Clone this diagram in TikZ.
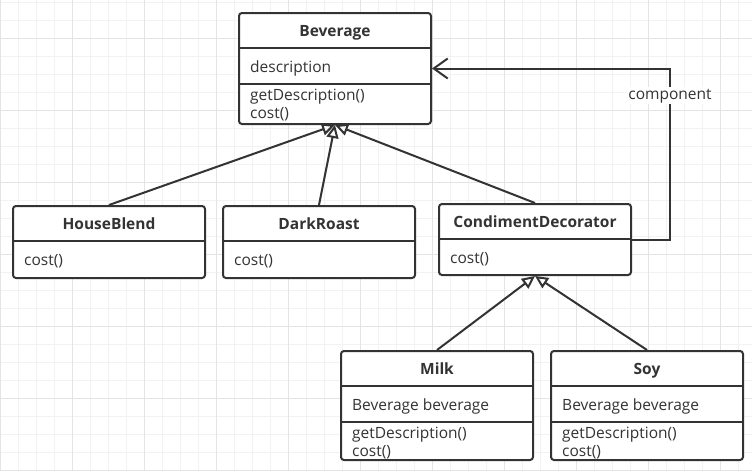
\documentclass[tikz,border=0pt]{standalone}
\usepackage{fontspec}
\setmainfont{Open Sans}
\usepackage{tikz}
\usepackage{xcolor}
\usetikzlibrary{arrows.meta, positioning, calc}

\definecolor{ink}{HTML}{333333}
\definecolor{gridminor}{HTML}{F2F2F2}
\definecolor{gridmajor}{HTML}{E4E4E4}

\begin{document}
\begin{tikzpicture}[x=1pt, y=-1pt,
    classbox/.style={draw=ink, line width=2pt, rounded corners=3pt, fill=white,
        inner sep=0pt, anchor=north west, minimum width=192pt},
    divider/.style={draw=ink, line width=2pt},
    title/.style={font=\fontsize{15.5}{18}\selectfont\bfseries, text=ink, anchor=base, inner sep=0pt},
    member/.style={font=\fontsize{15.5}{18}\selectfont, text=ink, anchor=base west, inner sep=0pt},
    lbl/.style={font=\fontsize{15.5}{18}\selectfont, text=ink, fill=white, inner sep=1.5pt},
    inherit/.style={draw=ink, line width=2pt, -{Triangle[open, length=13pt, width=12pt]}},
    assoc/.style={draw=ink, line width=2pt, -{Straight Barb[length=14pt, width=20pt]}},
]
\useasboundingbox (0,0) rectangle (752,471);
\fill[white] (0,0) rectangle (752,471);

% background grid
\foreach \x in {0,18,...,750} \draw[gridminor, line width=1pt] (\x,0) -- (\x,471);
\foreach \y in {2,20,...,470} \draw[gridminor, line width=1pt] (0,\y) -- (752,\y);
\foreach \x in {0,72,...,720} \draw[gridmajor, line width=1pt] (\x,0) -- (\x,471);
\foreach \y in {38,110,...,470} \draw[gridmajor, line width=1pt] (0,\y) -- (752,\y);

% Beverage
\node[classbox, minimum height=111pt] (bev) at (238,12) {};
\draw[divider] ($(bev.north west)+(0,36)$) -- ($(bev.north east)+(0,36)$);
\draw[divider] ($(bev.north west)+(0,72)$) -- ($(bev.north east)+(0,72)$);
\node[title] (bevName) at ($(bev.north)+(0,24)$) {Beverage};
\node[member] (bevAttr) at ($(bev.north west)+(12,60)$) {description};
\node[member] (bevOpA) at ($(bev.north west)+(12,88)$) {getDescription()};
\node[member] (bevOpB) at ($(bev.north west)+(12,106)$) {cost()};

% concrete beverages
\foreach \id/\txt/\px in {hb/HouseBlend/12, dr/DarkRoast/222} {
    \node[classbox, minimum height=72pt] (\id) at (\px,205) {};
    \draw[divider] ($(\id.north west)+(0,36)$) -- ($(\id.north east)+(0,36)$);
    \node[title] (\id Name) at ($(\id.north)+(0,24)$) {\txt};
    \node[member] (\id Op) at ($(\id.north west)+(12,60)$) {cost()};
}

% decorator
\node[classbox, minimum height=71pt] (cd) at (438,203) {};
\draw[divider] ($(cd.north west)+(0,36)$) -- ($(cd.north east)+(0,36)$);
\node[title] (cdName) at ($(cd.north)+(0,24)$) {CondimentDecorator};
\node[member] (cdOp) at ($(cd.north west)+(12,60)$) {cost()};

% condiments
\foreach \id/\txt/\px in {milk/Milk/340, soy/Soy/550} {
    \node[classbox, minimum height=109pt] (\id) at (\px,350) {};
    \draw[divider] ($(\id.north west)+(0,36)$) -- ($(\id.north east)+(0,36)$);
    \draw[divider] ($(\id.north west)+(0,72)$) -- ($(\id.north east)+(0,72)$);
    \node[title] (\id Name) at ($(\id.north)+(0,24)$) {\txt};
    \node[member] (\id Attr) at ($(\id.north west)+(12,60)$) {Beverage beverage};
    \node[member] (\id OpA) at ($(\id.north west)+(12,88)$) {getDescription()};
    \node[member] (\id OpB) at ($(\id.north west)+(12,106)$) {cost()};
}

% generalisation
\draw[inherit] (hb.north) -- (bev.south);
\draw[inherit] (dr.north) -- (bev.south);
\draw[inherit] (cd.north) -- (bev.south);
\draw[inherit] (milk.north) -- (cd.south);
\draw[inherit] (soy.north) -- (cd.south);

% association
\draw[assoc] (cd.east) -| node[lbl, pos=0.92] (comp) {component} ($(bev.east)+(238,0)$) -- (bev.east);
\end{tikzpicture}
\end{document}
